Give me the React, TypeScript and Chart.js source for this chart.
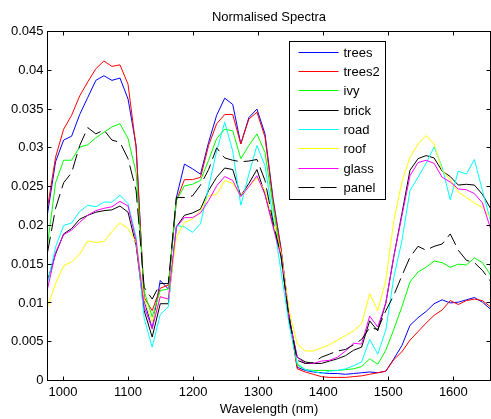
import React, { useEffect, useRef } from "react";
import { Chart, registerables } from "chart.js";

Chart.register(...registerables);

const FONT = "'Liberation Sans', Arial, Helvetica, sans-serif";

const titleText = "Normalised Spectra";
const xAxisTitle = "Wavelength (nm)";
const xMin = 976.2;
const xMax = 1657.1;
const yMin = 0;
const yMax = 0.045;
const xTicks = [1000, 1100, 1200, 1300, 1400, 1500, 1600];
const yTicks = [0, 0.005, 0.01, 0.015, 0.02, 0.025, 0.03, 0.035, 0.04, 0.045];

const wavelengths = [
  976.2, 988.6, 1001.0, 1013.3, 1025.7, 1038.1, 1050.5, 1062.9, 1075.2, 1087.6,
  1100.0, 1112.4, 1124.8, 1137.1, 1149.5, 1161.9, 1174.3, 1186.7, 1199.0, 1211.4,
  1223.8, 1236.2, 1248.6, 1260.9, 1273.3, 1285.7, 1298.1, 1310.5, 1322.8, 1335.2,
  1347.6, 1360.0, 1372.4, 1384.7, 1397.1, 1409.5, 1421.9, 1434.3, 1446.6, 1459.0,
  1471.4, 1483.8, 1496.2, 1508.5, 1520.9, 1533.3, 1545.7, 1558.1, 1570.4, 1582.8,
  1595.2, 1607.6, 1620.0, 1632.3, 1644.7, 1657.1,
];

const trees = [
  0.0215, 0.0282, 0.0310, 0.0315, 0.0343, 0.0365, 0.0387, 0.0393, 0.0387, 0.0390,
  0.0363, 0.0303, 0.0103, 0.0067, 0.0129, 0.0118, 0.0236, 0.0279, 0.0273, 0.0266,
  0.0307, 0.0342, 0.0364, 0.0356, 0.0305, 0.0339, 0.0350, 0.0318, 0.0235, 0.0170,
  0.0085, 0.0017, 0.0013, 0.0011, 0.0010, 0.0009, 0.0009, 0.0008, 0.0009, 0.0010,
  0.0011, 0.0010, 0.0012, 0.0028, 0.0045, 0.0071, 0.0081, 0.0089, 0.0099, 0.0104,
  0.0100, 0.0101, 0.0104, 0.0107, 0.0101, 0.0092,
];

const trees2 = [
  0.0223, 0.0288, 0.0324, 0.0342, 0.0367, 0.0385, 0.0402, 0.0412, 0.0405, 0.0407,
  0.0382, 0.0300, 0.0107, 0.0090, 0.0119, 0.0123, 0.0232, 0.0259, 0.0259, 0.0262,
  0.0303, 0.0331, 0.0343, 0.0343, 0.0305, 0.0337, 0.0346, 0.0314, 0.0232, 0.0168,
  0.0082, 0.0015, 0.0011, 0.0008, 0.0005, 0.0004, 0.0004, 0.0004, 0.0005, 0.0006,
  0.0008, 0.0010, 0.0012, 0.0027, 0.0037, 0.0052, 0.0063, 0.0074, 0.0084, 0.0091,
  0.0103, 0.0098, 0.0103, 0.0105, 0.0103, 0.0095,
];

const ivy = [
  0.0175, 0.0255, 0.0284, 0.0284, 0.0301, 0.0304, 0.0313, 0.0320, 0.0327, 0.0331,
  0.0312, 0.0268, 0.0115, 0.0082, 0.0116, 0.0118, 0.0232, 0.0251, 0.0253, 0.0258,
  0.0284, 0.0312, 0.0324, 0.0322, 0.0286, 0.0303, 0.0318, 0.0294, 0.0225, 0.0158,
  0.0080, 0.0020, 0.0014, 0.0013, 0.0013, 0.0013, 0.0013, 0.0014, 0.0015, 0.0018,
  0.0028, 0.0021, 0.0039, 0.0066, 0.0095, 0.0127, 0.0140, 0.0146, 0.0154, 0.0152,
  0.0146, 0.0150, 0.0149, 0.0158, 0.0152, 0.0136,
];

const brick = [
  0.0129, 0.0163, 0.0189, 0.0196, 0.0208, 0.0213, 0.0217, 0.0219, 0.0220, 0.0225,
  0.0217, 0.0174, 0.0090, 0.0056, 0.0099, 0.0099, 0.0198, 0.0213, 0.0216, 0.0221,
  0.0245, 0.0262, 0.0274, 0.0272, 0.0238, 0.0254, 0.0272, 0.0240, 0.0201, 0.0162,
  0.0080, 0.0030, 0.0024, 0.0022, 0.0022, 0.0025, 0.0028, 0.0032, 0.0039, 0.0043,
  0.0077, 0.0064, 0.0100, 0.0160, 0.0215, 0.0271, 0.0286, 0.0290, 0.0287, 0.0270,
  0.0263, 0.0252, 0.0253, 0.0252, 0.0240, 0.0222,
];

const road = [
  0.0125, 0.0172, 0.0200, 0.0203, 0.0218, 0.0226, 0.0224, 0.0230, 0.0230, 0.0239,
  0.0228, 0.0185, 0.0080, 0.0043, 0.0085, 0.0095, 0.0200, 0.0198, 0.0191, 0.0202,
  0.0249, 0.0296, 0.0333, 0.0296, 0.0226, 0.0266, 0.0303, 0.0277, 0.0210, 0.0140,
  0.0072, 0.0022, 0.0014, 0.0012, 0.0009, 0.0012, 0.0013, 0.0015, 0.0019, 0.0024,
  0.0053, 0.0034, 0.0065, 0.0133, 0.0180, 0.0245, 0.0262, 0.0280, 0.0301, 0.0275,
  0.0233, 0.0270, 0.0266, 0.0285, 0.0245, 0.0206,
];

const roof = [
  0.0095, 0.0125, 0.0148, 0.0153, 0.0163, 0.0180, 0.0178, 0.0179, 0.0192, 0.0203,
  0.0196, 0.0178, 0.0105, 0.0075, 0.0108, 0.0105, 0.0185, 0.0204, 0.0208, 0.0219,
  0.0238, 0.0240, 0.0258, 0.0254, 0.0238, 0.0250, 0.0261, 0.0245, 0.0205, 0.0165,
  0.0090, 0.0047, 0.0038, 0.0038, 0.0042, 0.0046, 0.0052, 0.0058, 0.0064, 0.0073,
  0.0112, 0.0090, 0.0129, 0.0206, 0.0256, 0.0288, 0.0305, 0.0316, 0.0305, 0.0271,
  0.0259, 0.0243, 0.0236, 0.0229, 0.0223, 0.0210,
];

const glass = [
  0.0118, 0.0165, 0.0188, 0.0194, 0.0204, 0.0213, 0.0219, 0.0222, 0.0224, 0.0231,
  0.0225, 0.0180, 0.0095, 0.0067, 0.0108, 0.0105, 0.0198, 0.0210, 0.0210, 0.0216,
  0.0232, 0.0251, 0.0263, 0.0258, 0.0237, 0.0250, 0.0264, 0.0240, 0.0198, 0.0160,
  0.0080, 0.0030, 0.0022, 0.0022, 0.0025, 0.0026, 0.0030, 0.0038, 0.0048, 0.0047,
  0.0083, 0.0069, 0.0100, 0.0160, 0.0212, 0.0264, 0.0281, 0.0284, 0.0280, 0.0262,
  0.0256, 0.0247, 0.0246, 0.0241, 0.0229, 0.0196,
];

const panel = [
  0.0165, 0.0222, 0.0255, 0.0268, 0.0303, 0.0326, 0.0318, 0.0323, 0.0310, 0.0307,
  0.0286, 0.0245, 0.0120, 0.0105, 0.0125, 0.0125, 0.0236, 0.0236, 0.0238, 0.0252,
  0.0272, 0.0300, 0.0287, 0.0284, 0.0282, 0.0283, 0.0285, 0.0258, 0.0205, 0.0160,
  0.0080, 0.0026, 0.0022, 0.0023, 0.0030, 0.0034, 0.0038, 0.0040, 0.0046, 0.0053,
  0.0068, 0.0066, 0.0090, 0.0110, 0.0135, 0.0159, 0.0173, 0.0168, 0.0173, 0.0176,
  0.0189, 0.0168, 0.0155, 0.0152, 0.0142, 0.0128,
];

const seriesNames = ["trees", "trees2", "ivy", "brick", "road", "roof", "glass", "panel"];
const seriesValues = [trees, trees2, ivy, brick, road, roof, glass, panel];
const seriesColors = ["#0000ff", "#ff0000", "#00ff00", "#000000", "#00ffff", "#ffff00", "#ff00ff", "#000000"];
const seriesDashes: number[][] = [[], [], [], [], [], [], [], [16, 6]];

const framePlugin = {
  id: "matlabFrame",
  afterDraw(chart: any) {
    const { ctx, chartArea: a, scales } = chart;
    const xs = scales.x;
    const ys = scales.y;
    ctx.save();
    ctx.setLineDash([]);
    ctx.strokeStyle = "#000";
    ctx.lineWidth = 1;
    ctx.strokeRect(a.left, a.top, a.right - a.left, a.bottom - a.top);
    const tl = 4;
    ctx.beginPath();
    xTicks.forEach((v) => {
      const px = Math.round(xs.getPixelForValue(v)) + 0.5;
      ctx.moveTo(px, a.bottom);
      ctx.lineTo(px, a.bottom - tl);
      ctx.moveTo(px, a.top);
      ctx.lineTo(px, a.top + tl);
    });
    yTicks.forEach((v) => {
      const py = Math.round(ys.getPixelForValue(v) - 0.5) + 0.5;
      ctx.moveTo(a.left, py);
      ctx.lineTo(a.left + tl, py);
      ctx.moveTo(a.right, py);
      ctx.lineTo(a.right - tl, py);
    });
    ctx.stroke();

    ctx.fillStyle = "#000";
    ctx.font = `13px ${FONT}`;
    ctx.textAlign = "center";
    ctx.textBaseline = "alphabetic";
    ctx.fillText(titleText, (a.left + a.right) / 2, 20.5);

    const bx = a.left + 242;
    const by = a.top + 10;
    const bw = 96;
    const bh = 158;
    ctx.fillStyle = "#fff";
    ctx.fillRect(bx, by, bw, bh);
    ctx.strokeStyle = "#000";
    ctx.strokeRect(bx, by, bw, bh);
    chart.data.datasets.forEach((ds: any, i: number) => {
      const y = Math.floor(by + 10.8 + i * 19.29) + 0.5;
      ctx.strokeStyle = ds.borderColor;
      ctx.setLineDash(ds.borderDash || []);
      ctx.beginPath();
      ctx.moveTo(bx + 9, y);
      ctx.lineTo(bx + 49, y);
      ctx.stroke();
      ctx.setLineDash([]);
      ctx.fillStyle = "#000";
      ctx.textAlign = "left";
      ctx.textBaseline = "middle";
      ctx.fillText(ds.label, bx + 54, y + 0.5);
    });
    ctx.restore();
  },
};

export default function App() {
  const canvasRef = useRef<HTMLCanvasElement | null>(null);

  useEffect(() => {
    if (!canvasRef.current) return;
    const datasets = seriesNames.map((name, i) => ({
      label: name,
      data: wavelengths.map((w, j) => ({ x: w, y: seriesValues[i][j] })),
      borderColor: seriesColors[i],
      backgroundColor: seriesColors[i],
      borderWidth: 1,
      borderDash: seriesDashes[i],
      pointRadius: 0,
      tension: 0,
      fill: false,
      order: seriesNames.length - 1 - i,
    }));
    const chart = new Chart(canvasRef.current, {
      type: "line",
      data: { datasets },
      options: {
        responsive: false,
        maintainAspectRatio: false,
        animation: false,
        devicePixelRatio: 1,
        events: [],
        layout: { padding: { left: 0, top: 31.5, right: 0.5, bottom: 0 } },
        plugins: {
          legend: { display: false },
          title: { display: false },
          tooltip: { enabled: false },
        },
        scales: {
          x: {
            type: "linear",
            min: xMin,
            max: xMax,
            grid: { display: false, drawTicks: false },
            border: { display: false },
            ticks: {
              font: { family: FONT, size: 13 },
              color: "#000",
              padding: 4,
              maxRotation: 0,
              autoSkip: false,
              callback: (v: any) => String(v),
            },
            afterBuildTicks: (s: any) => {
              s.ticks = xTicks.map((v) => ({ value: v }));
            },
            afterFit: (s: any) => {
              s.height = 38.5;
            },
            title: {
              display: true,
              text: xAxisTitle,
              font: { family: FONT, size: 13 },
              color: "#000",
              padding: { top: 0, bottom: 2 },
            },
          },
          y: {
            type: "linear",
            min: yMin,
            max: yMax,
            grid: { display: false, drawTicks: false },
            border: { display: false },
            ticks: {
              font: { family: FONT, size: 13 },
              color: "#000",
              padding: 4,
              autoSkip: false,
              callback: (v: any) => String(parseFloat(Number(v).toFixed(3))),
            },
            afterBuildTicks: (s: any) => {
              s.ticks = yTicks.map((v) => ({ value: v }));
            },
            afterFit: (s: any) => {
              s.width = 47.5;
            },
          },
        },
      },
      plugins: [framePlugin],
    } as any);
    return () => chart.destroy();
  }, []);

  return (
    <div style={{ position: "absolute", left: 0, top: 0, width: 491, height: 419, background: "#fff" }}>
      <canvas ref={canvasRef} width={491} height={419} style={{ display: "block" }} />
    </div>
  );
}
